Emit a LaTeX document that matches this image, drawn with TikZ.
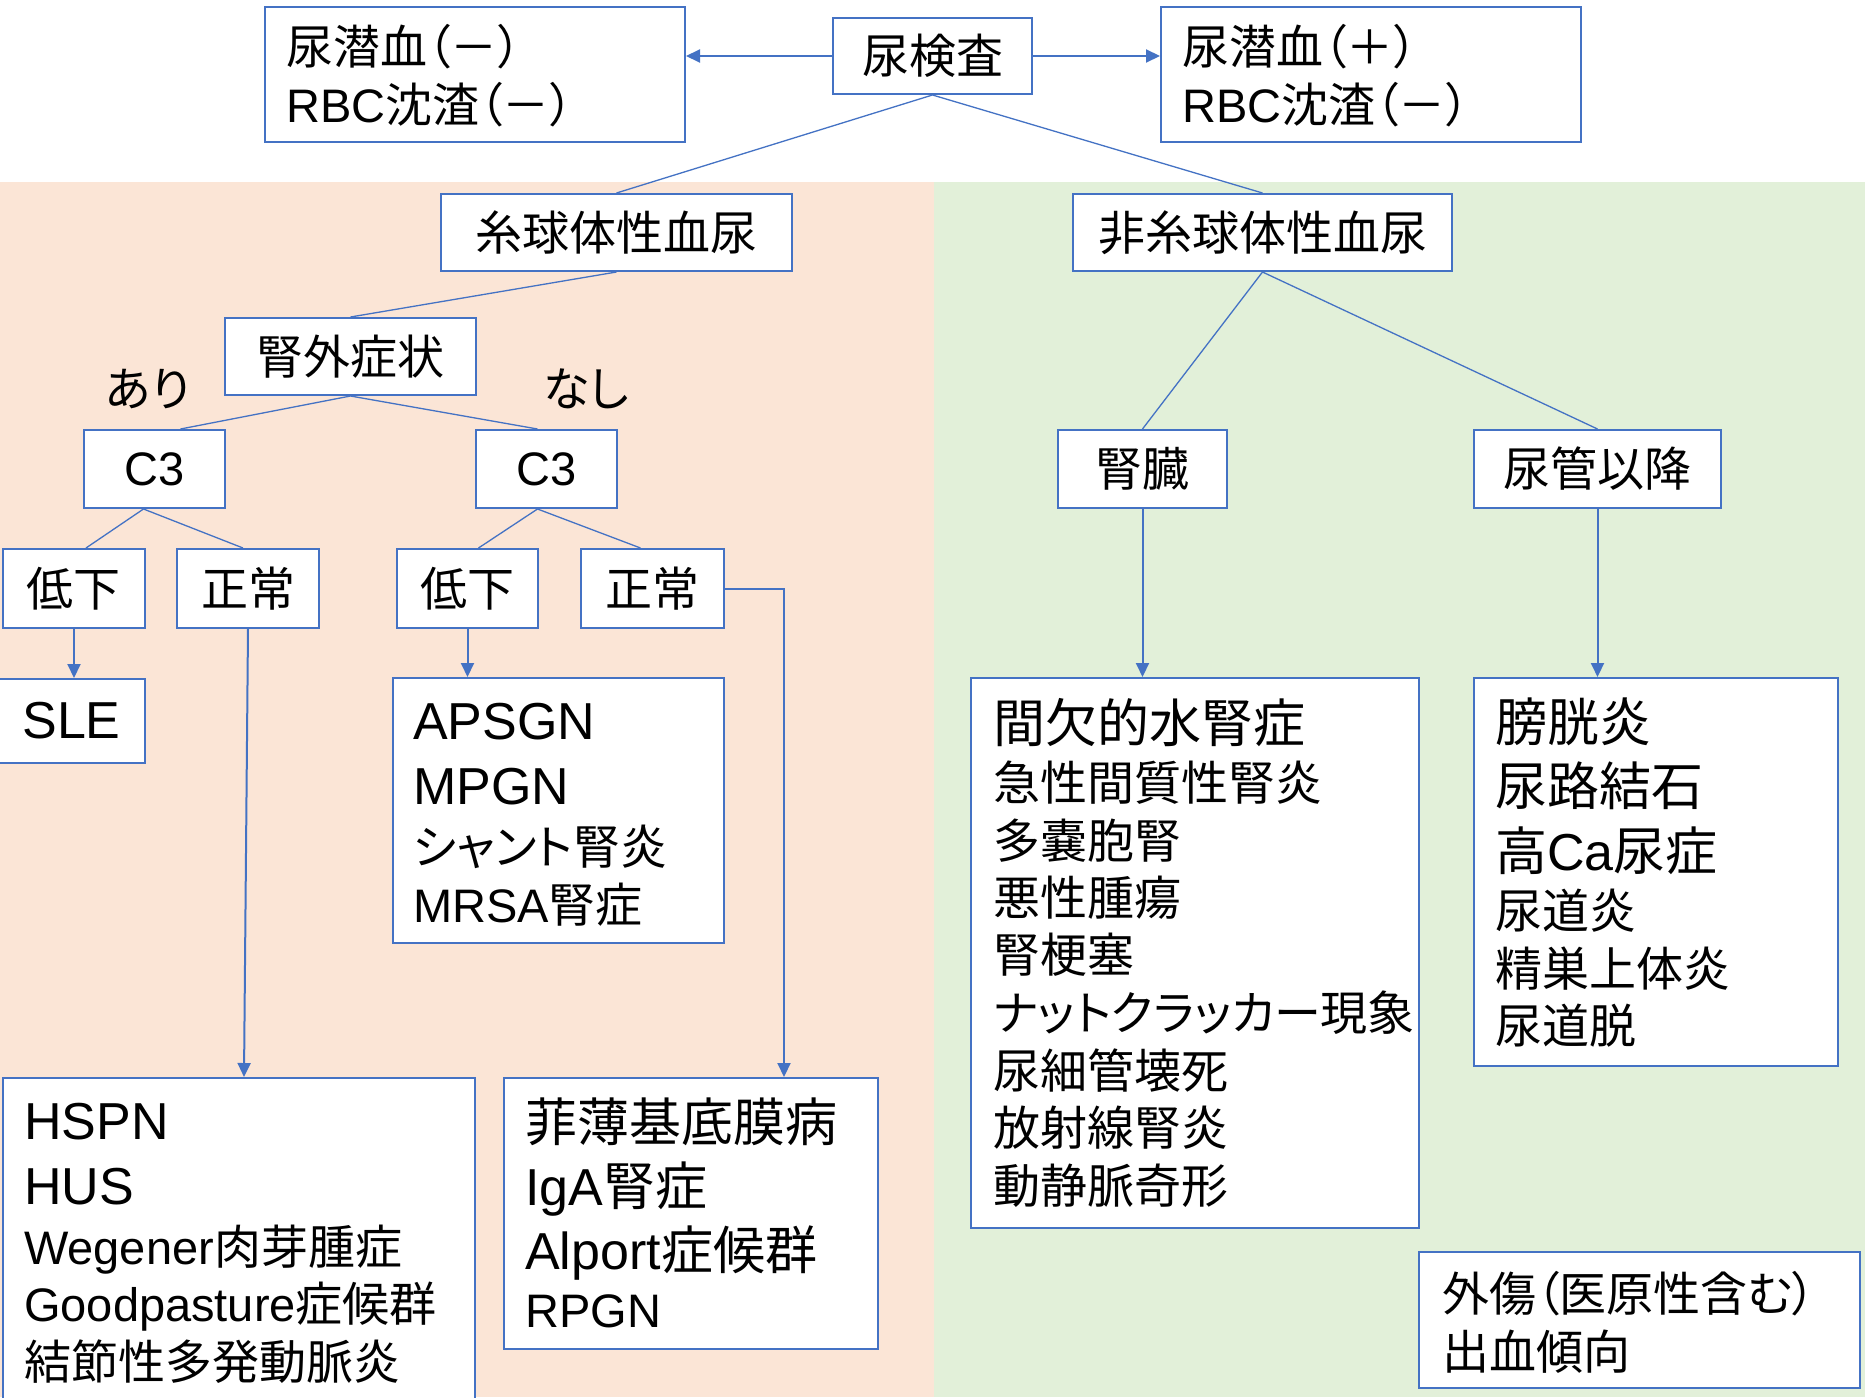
\documentclass[tikz,border=0pt]{standalone}
\usepackage{fontspec}
\setmainfont{Noto Sans CJK JP}[RawFeature={+palt}]
\newfontfamily\lat{Liberation Sans}
\usetikzlibrary{arrows.meta,calc}
\definecolor{bblue}{HTML}{4472C4}
\definecolor{pinkbg}{HTML}{FBE5D6}
\definecolor{greenbg}{HTML}{E2F0D9}
\newcommand{\fsN}{\fontsize{47}{56}\selectfont}
\newcommand{\fsL}{\fontsize{52}{60}\selectfont}
\tikzset{
  box/.style={draw=bblue, line width=2pt, fill=white, inner sep=0pt, font=\fsN},
  txt/.style={anchor=base west, inner sep=0pt},
  conn/.style={draw=bblue, line width=1.3pt},
  arr/.style={draw=bblue, line width=2pt, -{Triangle[length=14pt,width=13pt]}},
}
% box: name, x1, y1, x2, y2, text
\newcommand{\bx}[6]{\node[box, minimum width={(#4)-(#2)}, minimum height={(#5)-(#3)}] (#1) at ({((#2)+(#4))/2},{((#3)+(#5))/2}) {#6};}
% text line: name, x, baseline y, font, text
\newcommand{\txtline}[5]{\node[txt, font=#4] (#1) at (#2,#3) {#5};}
\begin{document}
\begin{tikzpicture}[x=1pt,y=-1pt]
\useasboundingbox (0,0) rectangle (1865,1397);
% backgrounds
\fill[white] (0,0) rectangle (1865,1397);
\fill[pinkbg] (0,182) rectangle (934,1397);
\fill[greenbg] (934,182) rectangle (1865,1397);

% top row
\bx{neg}{265}{7}{685}{142}{}
\txtline{neg1}{286}{64}{\fsN}{尿潜血（－）}
\txtline{neg2}{286}{122}{\fsN}{{\lat RBC}沈渣（－）}
\bx{kensa}{833}{18}{1032}{94}{尿検査}
\bx{pos}{1161}{7}{1581}{142}{}
\txtline{pos1}{1182}{64}{\fsN}{尿潜血（＋）}
\txtline{pos2}{1182}{122}{\fsN}{{\lat RBC}沈渣（－）}

% second level
\bx{glom}{441}{194}{792}{271}{糸球体性血尿}
\bx{nonglom}{1073}{194}{1452}{271}{非糸球体性血尿}

% glomerular branch
\bx{jingai}{225}{318}{476}{395}{腎外症状}
\node[inner sep=0pt, font=\fsN] (ari) at (148,389) {あり};
\node[inner sep=0pt, font=\fsN] (nashi) at (586,389) {なし};
\bx{c3l}{84}{430}{225}{508}{\lat C3}
\bx{c3r}{476}{430}{617}{508}{\lat C3}
\bx{teikaL}{3}{549}{145}{628}{低下}
\bx{seijoL}{177}{549}{319}{628}{正常}
\bx{teikaR}{397}{549}{538}{628}{低下}
\bx{seijoR}{581}{549}{724}{628}{正常}
\bx{sle}{-2}{679}{145}{763}{\fsL\lat SLE}

\bx{apsgn}{393}{678}{724}{943}{}
\txtline{ap1}{413}{739}{\fsL}{{\lat APSGN}}
\txtline{ap2}{413}{804}{\fsL}{{\lat MPGN}}
\txtline{ap3}{413}{864}{\fsN}{シャント腎炎}
\txtline{ap4}{413}{922}{\fsN}{{\lat MRSA}腎症}

\bx{hspn}{3}{1078}{475}{1402}{}
\txtline{hs1}{24}{1139}{\fsL}{{\lat HSPN}}
\txtline{hs2}{24}{1204}{\fsL}{{\lat HUS}}
\txtline{hs3}{24}{1264}{\fsN}{{\lat Wegener}肉芽腫症}
\txtline{hs4}{24}{1321}{\fsN}{{\lat Goodpasture}症候群}
\txtline{hs5}{24}{1379}{\fsN}{結節性多発動脈炎}

\bx{hakuso}{504}{1078}{878}{1349}{}
\txtline{hk1}{525}{1141}{\fsL}{菲薄基底膜病}
\txtline{hk2}{525}{1205}{\fsL}{{\lat IgA}腎症}
\txtline{hk3}{525}{1269}{\fsL}{{\lat Alport}症候群}
\txtline{hk4}{525}{1327}{\fsN}{{\lat RPGN}}

% non-glomerular branch
\bx{jinzo}{1058}{430}{1227}{508}{腎臓}
\bx{nyokan}{1474}{430}{1721}{508}{尿管以降}

\bx{kanketsu}{971}{678}{1419}{1228}{}
\txtline{kk1}{993}{742}{\fsL}{間欠的水腎症}
\txtline{kk2}{993}{800}{\fsN}{急性間質性腎炎}
\txtline{kk3}{993}{858}{\fsN}{多嚢胞腎}
\txtline{kk4}{993}{915}{\fsN}{悪性腫瘍}
\txtline{kk5}{993}{972}{\fsN}{腎梗塞}
\txtline{kk6}{993}{1030}{\fsN}{ナットクラッカー現象}
\txtline{kk7}{993}{1088}{\fsN}{尿細管壊死}
\txtline{kk8}{993}{1145}{\fsN}{放射線腎炎}
\txtline{kk9}{993}{1203}{\fsN}{動静脈奇形}

\bx{bokou}{1474}{678}{1838}{1066}{}
\txtline{bk1}{1495}{741}{\fsL}{膀胱炎}
\txtline{bk2}{1495}{805}{\fsL}{尿路結石}
\txtline{bk3}{1495}{870}{\fsL}{高{\lat Ca}尿症}
\txtline{bk4}{1495}{928}{\fsN}{尿道炎}
\txtline{bk5}{1495}{986}{\fsN}{精巣上体炎}
\txtline{bk6}{1495}{1043}{\fsN}{尿道脱}

\bx{gaisho}{1419}{1252}{1860}{1388}{}
\txtline{gs1}{1442}{1311}{\fsN}{外傷（医原性含む）}
\txtline{gs2}{1442}{1369}{\fsN}{出血傾向}

% connectors
\draw[arr] (kensa.west) -- (kensa.west -| neg.east);
\draw[arr] (kensa.east) -- (kensa.east -| pos.west);
\draw[conn] (kensa.south) -- (glom.north);
\draw[conn] (kensa.south) -- (nonglom.north);
\draw[conn] (glom.south) -- (jingai.north);
\draw[conn] (jingai.south) -- ([xshift=26pt]c3l.north);
\draw[conn] (jingai.south) -- ([xshift=-9pt]c3r.north);
\draw[conn] ([xshift=-11pt]c3l.south) -- ([xshift=12pt]teikaL.north);
\draw[conn] ([xshift=-11pt]c3l.south) -- ([xshift=-5pt]seijoL.north);
\draw[conn] ([xshift=-9pt]c3r.south) -- ([xshift=11pt]teikaR.north);
\draw[conn] ([xshift=-9pt]c3r.south) -- ([xshift=-12pt]seijoR.north);
\draw[arr] (teikaL.south) -- (teikaL.south |- sle.north);
\draw[arr] (teikaR.south) -- (teikaR.south |- apsgn.north);
\coordinate (hspnIn) at ($(hspn.north west)+(242,0)$);
\draw[arr] (seijoL.south) -- (hspnIn);
\coordinate (hakusoIn) at ($(hakuso.north west)+(281,0)$);
\draw[arr] (seijoR.east) -| (hakusoIn);
\draw[conn] (nonglom.south) -- (jinzo.north);
\draw[conn] (nonglom.south) -- (nyokan.north);
\draw[arr] (jinzo.south) -- (jinzo.south |- kanketsu.north);
\draw[arr] (nyokan.south) -- (nyokan.south |- bokou.north);
\end{tikzpicture}
\end{document}
